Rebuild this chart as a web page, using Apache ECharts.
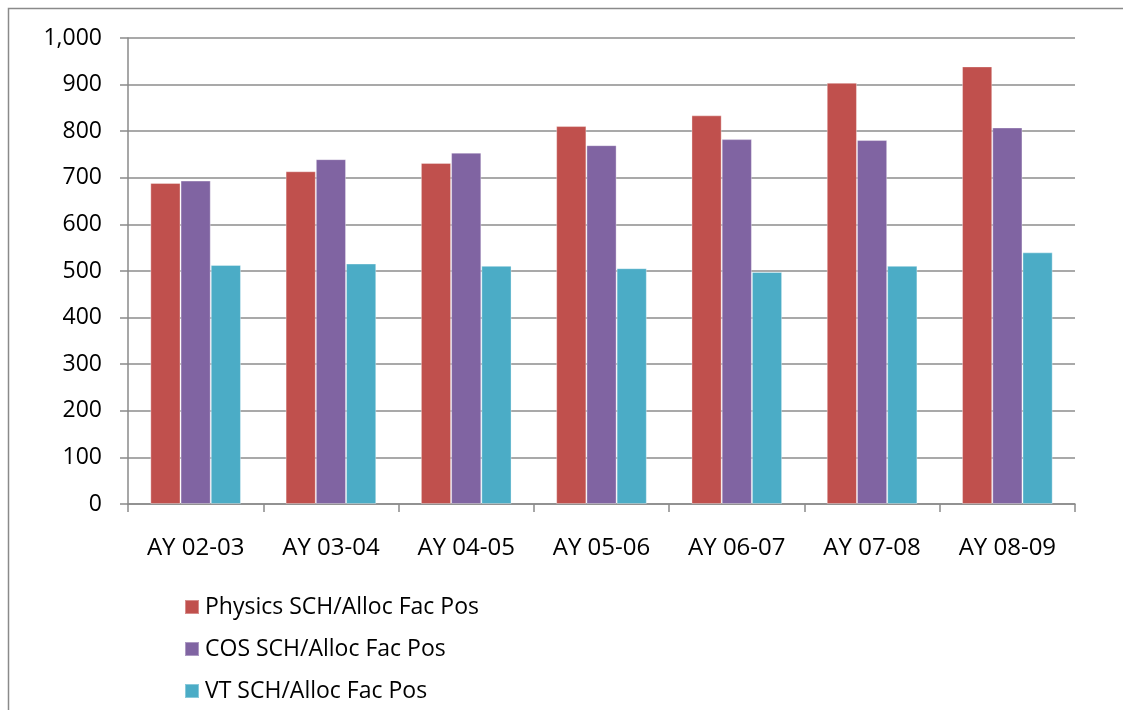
<!DOCTYPE html>
<html><head><meta charset="utf-8">
<script src="https://cdn.jsdelivr.net/npm/echarts@6/dist/echarts.min.js"></script>
<style>html,body{margin:0;padding:0;background:#fff}#c{width:1123px;height:710px}</style>
</head><body><div id="c"></div>
<script>
const categories = ['AY 02-03','AY 03-04','AY 04-05','AY 05-06','AY 06-07','AY 07-08','AY 08-09'];
const physics = [689, 714, 732, 811, 834, 904, 939];
const cos = [694, 740, 754, 770, 783, 781, 808];
const vt = [513, 516, 511, 506, 498, 511, 540];
const seriesNames = ['Physics SCH/Alloc Fac Pos','COS SCH/Alloc Fac Pos','VT SCH/Alloc Fac Pos'];
const colors = ['#C0504D','#8064A2','#4BACC6'];
const font = 'Open Sans';
const chart = echarts.init(document.getElementById('c'));
const mk = (name, data, color) => ({
  name, type: 'bar', data, barGap: '0%', barCategoryGap: '33%',
  itemStyle: { color, borderColor: 'rgba(255,255,255,0.35)', borderWidth: 1 }
});
chart.setOption({
  animation: false,
  graphic: [{ type: 'rect', shape: { x: 8.5, y: 8.5, width: 1200, height: 800 }, style: { fill: 'none', stroke: '#8a8a8a', lineWidth: 1.5 }, silent: true }],
  grid: { left: 128, right: 48, top: 38, bottom: 206, containLabel: false },
  legend: {
    orient: 'vertical', left: 184, top: 595, height: 300, padding: 0,
    itemWidth: 14, itemHeight: 14, itemGap: 18,
    icon: 'rect',
    textStyle: { fontFamily: font, fontSize: 23, lineHeight: 24, color: '#000', padding: [0,0,0,1] },
    data: seriesNames
  },
  xAxis: {
    type: 'category', data: categories,
    axisLine: { lineStyle: { color: '#8a8a8a', width: 1.5 } },
    axisTick: { show: true, length: 8, lineStyle: { color: '#8a8a8a', width: 1.5 } },
    axisLabel: { fontFamily: font, fontSize: 24, color: '#000', margin: 32 }
  },
  yAxis: {
    type: 'value', min: 0, max: 1000, interval: 100,
    axisLine: { show: true, lineStyle: { color: '#8a8a8a', width: 1.5 } },
    axisTick: { show: true, length: 8, lineStyle: { color: '#8a8a8a', width: 1.5 } },
    splitLine: { lineStyle: { color: '#8c8c8c', width: 1.5 } },
    axisLabel: { fontFamily: font, fontSize: 23, color: '#000', margin: 26,
      formatter: v => v.toLocaleString('en-US') }
  },
  series: [mk(seriesNames[0], physics, colors[0]), mk(seriesNames[1], cos, colors[1]), mk(seriesNames[2], vt, colors[2])]
});
</script></body></html>
